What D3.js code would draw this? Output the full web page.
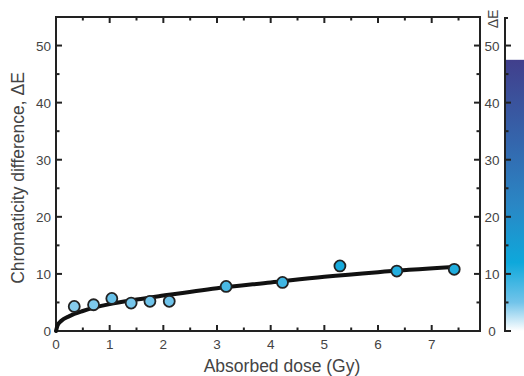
<!DOCTYPE html>
<html>
<head>
<meta charset="utf-8">
<script src="https://cdn.jsdelivr.net/npm/d3@7"></script>
<style>
  body { margin: 0; background: #fff; }
  text { font-family: "Liberation Sans", Arial, sans-serif; fill: #444; }
</style>
</head>
<body>
<svg id="chart" width="524" height="376"></svg>
<script>
(() => {
  'use strict';

  // measured points: absorbed dose (Gy) vs chromaticity difference
  const dose = [0.34, 0.70, 1.04, 1.40, 1.75, 2.11, 3.17, 4.22, 5.29, 6.35, 7.42];
  const deltaE = [4.3, 4.6, 5.7, 4.9, 5.2, 5.2, 7.8, 8.5, 11.4, 10.5, 10.8];

  // fitted curve
  const fitDose = [0, 0.03, 0.1, 0.25, 0.5, 1, 1.5, 2, 3, 4, 5, 6, 7.4];
  const fitDE = [0, 1.0, 1.8, 2.6, 3.5, 4.7, 5.5, 6.2, 7.5, 8.5, 9.5, 10.3, 11.2];

  const xTicks = [0, 1, 2, 3, 4, 5, 6, 7];
  const yTicks = [0, 10, 20, 30, 40, 50];

  // colour bar stops
  const barValues = [0, 5, 12, 22, 33, 47.5];
  const barColors = ['#ffffff', '#72c4ea', '#0ea8db', '#2a87c5', '#3466ad', '#413f8c'];

  const svg = d3.select('#chart');
  const left = 56, right = 480, top = 17, bottom = 331;

  const x = d3.scaleLinear().domain([0, 7.9]).range([left, right]);
  const y = d3.scaleLinear().domain([0, 55]).range([bottom, top]);
  const color = d3.scaleLinear().domain(barValues).range(barColors).clamp(true);

  const minorX = d3.range(0.5, 7.9, 1);
  const minorY = d3.range(5, 55, 10);

  function axisLines(g, scale, ticks, len, horiz, pos, dir) {
    g.selectAll(null).data(ticks).join('line')
      .attr('x1', d => horiz ? scale(d) : pos)
      .attr('x2', d => horiz ? scale(d) : pos + dir * len)
      .attr('y1', d => horiz ? pos : scale(d))
      .attr('y2', d => horiz ? pos + dir * len : scale(d))
      .attr('stroke', '#222').attr('stroke-width', 2);
  }

  const ax = svg.append('g');
  axisLines(ax, x, xTicks, 6, true, bottom, -1);
  axisLines(ax, x, minorX, 3.5, true, bottom, -1);
  axisLines(ax, x, xTicks, 6, true, top, 1);
  axisLines(ax, x, minorX, 3.5, true, top, 1);
  axisLines(ax, y, yTicks, 6, false, left, 1);
  axisLines(ax, y, minorY, 3.5, false, left, 1);
  axisLines(ax, y, yTicks, 6, false, right, -1);
  axisLines(ax, y, minorY, 3.5, false, right, -1);

  ax.append('rect')
    .attr('x', left).attr('y', top)
    .attr('width', right - left).attr('height', bottom - top)
    .attr('fill', 'none').attr('stroke', '#222').attr('stroke-width', 2);

  // tick labels
  svg.append('g').selectAll('text').data(xTicks).join('text')
    .attr('x', d => x(d)).attr('y', bottom + 18)
    .attr('text-anchor', 'middle').attr('font-size', 13.5)
    .text(d => d);
  svg.append('g').selectAll('text').data(yTicks).join('text')
    .attr('x', left - 5).attr('y', d => y(d) + 5)
    .attr('text-anchor', 'end').attr('font-size', 13.5)
    .text(d => d);
  svg.append('g').selectAll('text').data(yTicks).join('text')
    .attr('x', 492).attr('y', d => y(d) + 5)
    .attr('text-anchor', 'middle').attr('font-size', 13.5)
    .text(d => d);

  // axis titles
  svg.append('text')
    .attr('x', 282).attr('y', 372)
    .attr('text-anchor', 'middle').attr('font-size', 17.5).attr('fill', '#333')
    .text('Absorbed dose (Gy)');
  svg.append('text')
    .attr('transform', 'translate(24,178) rotate(-90)')
    .attr('text-anchor', 'middle').attr('font-size', 17.5).attr('fill', '#333')
    .text('Chromaticity difference, \u0394E');

  // colour bar
  const grad = svg.append('defs').append('linearGradient')
    .attr('id', 'bar').attr('x1', 0).attr('x2', 0).attr('y1', 1).attr('y2', 0);
  grad.selectAll('stop').data(barValues).join('stop')
    .attr('offset', d => d / barValues[barValues.length - 1])
    .attr('stop-color', (d, i) => barColors[i]);
  const barX = 505;
  svg.append('rect')
    .attr('x', barX).attr('y', y(barValues[barValues.length - 1]))
    .attr('width', 24).attr('height', y(0) - y(barValues[barValues.length - 1]))
    .attr('fill', 'url(#bar)');
  const cb = svg.append('g');
  cb.append('line')
    .attr('x1', barX).attr('x2', barX).attr('y1', y(0) + 1).attr('y2', top + 1)
    .attr('stroke', '#222').attr('stroke-width', 2);
  cb.append('line')
    .attr('x1', barX - 1).attr('x2', barX + 3).attr('y1', top + 1).attr('y2', top + 1)
    .attr('stroke', '#222').attr('stroke-width', 2);
  axisLines(cb, y, yTicks, 6, false, barX, 1);
  axisLines(cb, y, minorY, 3.5, false, barX, 1);
  svg.append('text')
    .attr('transform', 'translate(498,19) rotate(-90)')
    .attr('text-anchor', 'middle').attr('font-size', 14)
    .text('\u0394E');

  // fitted curve
  const line = d3.line()
    .x((d, i) => x(fitDose[i]))
    .y(d => y(d))
    .curve(d3.curveMonotoneX);
  svg.append('path')
    .attr('d', line(fitDE))
    .attr('fill', 'none').attr('stroke', '#111').attr('stroke-width', 4)
    .attr('stroke-linecap', 'round');

  // points
  svg.append('g').selectAll('circle').data(deltaE).join('circle')
    .attr('cx', (d, i) => x(dose[i]))
    .attr('cy', d => y(d))
    .attr('r', 5.5)
    .attr('fill', d => color(d))
    .attr('stroke', '#222').attr('stroke-width', 1.8);
})();
</script>
</body>
</html>
